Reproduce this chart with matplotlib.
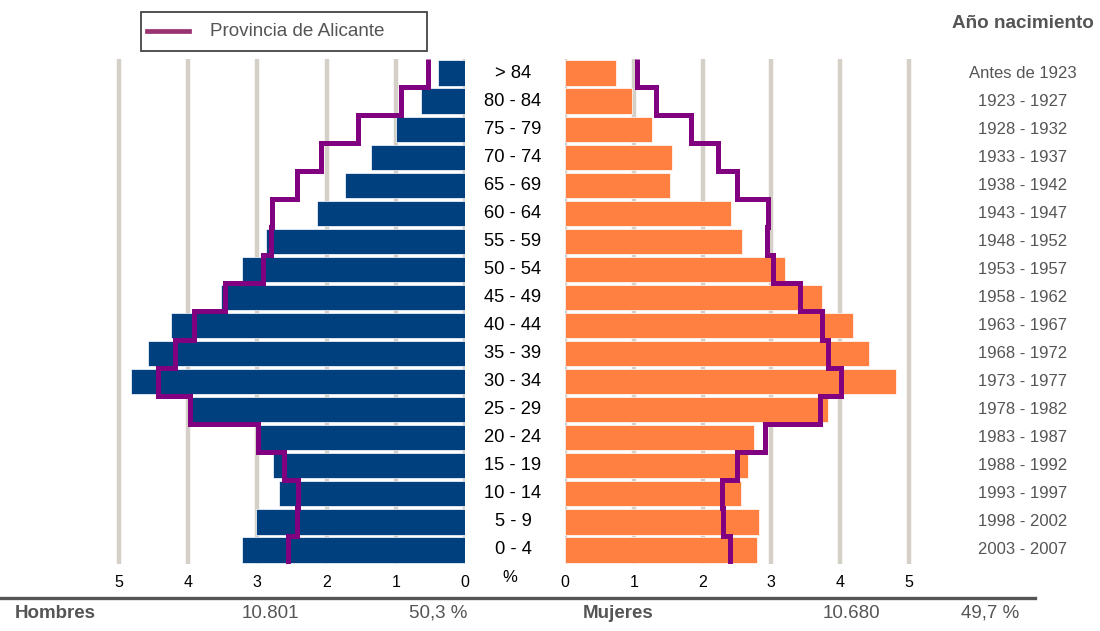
import numpy as np
import matplotlib.pyplot as plt
from matplotlib.patches import Rectangle

plt.rcParams['font.family'] = ['Liberation Sans', 'DejaVu Sans']

# age groups from youngest to oldest (bottom to top)
edades = ['0 - 4', '5 - 9', '10 - 14', '15 - 19', '20 - 24', '25 - 29', '30 - 34',
          '35 - 39', '40 - 44', '45 - 49', '50 - 54', '55 - 59', '60 - 64',
          '65 - 69', '70 - 74', '75 - 79', '80 - 84', '> 84']
nacimiento = ['2003 - 2007', '1998 - 2002', '1993 - 1997', '1988 - 1992', '1983 - 1987',
              '1978 - 1982', '1973 - 1977', '1968 - 1972', '1963 - 1967', '1958 - 1962',
              '1953 - 1957', '1948 - 1952', '1943 - 1947', '1938 - 1942', '1933 - 1937',
              '1928 - 1932', '1923 - 1927', 'Antes de 1923']

hombres = [3.22, 3.02, 2.68, 2.78, 2.96, 3.96, 4.83, 4.58, 4.25, 3.53,
           3.22, 2.87, 2.14, 1.74, 1.36, 0.99, 0.64, 0.39]
mujeres = [2.79, 2.82, 2.56, 2.66, 2.75, 3.83, 4.81, 4.42, 4.18, 3.74,
           3.20, 2.57, 2.41, 1.53, 1.56, 1.26, 0.98, 0.74]
prov_hombres = [2.55, 2.43, 2.41, 2.62, 2.99, 3.97, 4.43, 4.19, 3.91, 3.47,
                2.92, 2.80, 2.79, 2.43, 2.08, 1.54, 0.92, 0.53]
prov_mujeres = [2.40, 2.30, 2.28, 2.50, 2.91, 3.70, 4.01, 3.83, 3.73, 3.41,
                3.03, 2.93, 2.95, 2.50, 2.22, 1.83, 1.32, 1.04]

azul = '#00407f'
naranja = '#ff8040'
morado = '#800080'
rejilla = '#d4d0c8'
gris = '#555555'

y = np.arange(len(edades))
bordes = np.arange(len(edades) + 1) - 0.5

fig = plt.figure(figsize=(11, 6.31), dpi=100)
ax1 = fig.add_axes([0.1018, 0.1062, 0.3209, 0.8003])
ax2 = fig.add_axes([0.5136, 0.1062, 0.3190, 0.8003])

for ax, vals, prov, col in [(ax1, hombres, prov_hombres, azul),
                            (ax2, mujeres, prov_mujeres, naranja)]:
    ax.barh(y, vals, height=0.9, color=col, edgecolor='white', linewidth=0.5, zorder=2)
    ax.stairs(prov, bordes, orientation='horizontal', baseline=None,
              color=morado, linewidth=3.6, zorder=3)
    ax.set_xlim(0, 5.1)
    ax.set_ylim(-0.5, len(edades) - 0.5)
    ax.set_xticks(range(6))
    ax.set_yticks([])
    ax.grid(axis='x', color=rejilla, linewidth=3.2, zorder=0)
    ax.set_axisbelow(True)
    ax.tick_params(axis='x', length=0, pad=8, labelsize=11.5)
    for s in ax.spines.values():
        s.set_visible(False)
ax1.invert_xaxis()

# age group labels in the middle, birth years on the right
for yi, lab in zip(y, edades):
    ax1.annotate(lab, xy=(0, yi), xycoords='data', xytext=(48, 0),
                 textcoords='offset pixels', ha='center', va='center', fontsize=13.2)
    ax2.annotate(nacimiento[yi], xy=(5.1, yi), xycoords='data', xytext=(107, 0),
                 textcoords='offset pixels', ha='center', va='center',
                 fontsize=12, color=gris)

fig.text(510 / 1100, 1 - 578 / 631, '%', ha='center', va='center', fontsize=12)
fig.text(1023 / 1100, 1 - 24 / 631, 'Año nacimiento', ha='center', va='center',
         fontsize=13.6, color=gris, fontweight='bold')

# legend box drawn by hand
fig.add_artist(Rectangle((141 / 1100, 1 - 51 / 631), 286 / 1100, 39 / 631,
                         transform=fig.transFigure, facecolor='white',
                         edgecolor='#444444', linewidth=1.3))
fig.add_artist(plt.Line2D([147 / 1100, 189 / 1100], [1 - 31 / 631] * 2,
                          color='#993370', linewidth=3.4))
fig.text(210 / 1100, 1 - 31 / 631, 'Provincia de Alicante', ha='left', va='center',
         fontsize=13.6, color=gris)

# bottom summary row
fig.add_artist(plt.Line2D([0, 1035 / 1100], [1 - 598 / 631] * 2,
                          color='#555555', linewidth=2.4))
yb = 1 - 613 / 631
fig.text(15 / 1100, yb, 'Hombres', ha='left', va='center', fontsize=13.5,
         fontweight='bold', color=gris)
fig.text(270 / 1100, yb, '10.801', ha='center', va='center', fontsize=13.5, color=gris)
fig.text(438 / 1100, yb, '50,3 %', ha='center', va='center', fontsize=13.5, color=gris)
fig.text(583 / 1100, yb, 'Mujeres', ha='left', va='center', fontsize=13.5,
         fontweight='bold', color=gris)
fig.text(851 / 1100, yb, '10.680', ha='center', va='center', fontsize=13.5, color=gris)
fig.text(990 / 1100, yb, '49,7 %', ha='center', va='center', fontsize=13.5, color=gris)

fig.savefig('out.png', dpi=100)
